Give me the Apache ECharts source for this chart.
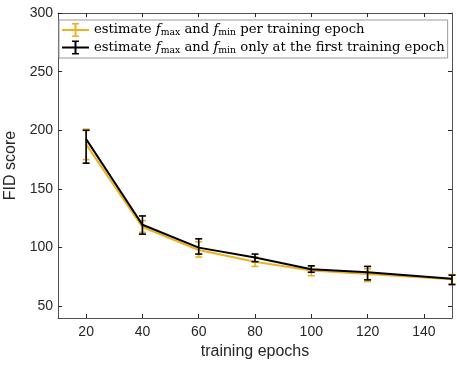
<!DOCTYPE html>
<html>
<head>
    <meta charset="utf-8">
    <title>FID</title>
    <script src="https://cdn.jsdelivr.net/npm/echarts@6/dist/echarts.min.js"></script>
</head>
<body style="margin:0">
    <div id="chart" style="width: 457px;height:366px;"></div>
    <script type="text/javascript">
        // values
        var epochs = [20, 40, 60, 80, 100, 120, 150];
        var perEpochMean = [188, 117.5, 98, 88, 80.5, 77.5, 73];
        var perEpochLow = [175, 113, 92, 84, 76, 71, 69];
        var perEpochHigh = [201, 123, 105, 92, 84, 82, 77];
        var firstMean = [192.5, 119.5, 100, 91.5, 81.5, 79, 73.5];
        var firstLow = [172, 111.5, 94.5, 88, 79, 72.5, 68.5];
        var firstHigh = [200, 127, 107.5, 94.5, 84.5, 84, 76.5];
        var xTicks = [20, 40, 60, 80, 100, 120, 140];
        var yTicks = [50, 100, 150, 200, 250, 300];

        var nameA = 'perEpoch';
        var nameB = 'firstEpoch';
        var orange = '#EDB120';
        var black = '#000000';
        var axisColor = '#262626';
        var barIcon = 'path://M0,6h27v2h-27z M12.5,0h2v14h-2z M10,0h7v1.6h-7z M10,12.4h7v1.6h-7z';

        function pairs(xs, ys) {
            return xs.map(function (x, i) { return [x, ys[i]]; });
        }
        function errData(xs, lo, hi) {
            return xs.map(function (x, i) { return [x, lo[i], hi[i]]; });
        }
        function errSeries(data, color) {
            return {
                type: 'custom',
                data: data,
                silent: true,
                z: color === black ? 4 : 2,
                renderItem: function (params, api) {
                    var x = api.value(0);
                    var lo = api.coord([x, api.value(1)]);
                    var hi = api.coord([x, api.value(2)]);
                    var w = 3.5;
                    var st = { stroke: color, lineWidth: 1.6 };
                    return {
                        type: 'group',
                        children: [
                            { type: 'line', shape: { x1: lo[0], y1: lo[1], x2: hi[0], y2: hi[1] }, style: st },
                            { type: 'line', shape: { x1: lo[0] - w, y1: lo[1], x2: lo[0] + w, y2: lo[1] }, style: st },
                            { type: 'line', shape: { x1: hi[0] - w, y1: hi[1], x2: hi[0] + w, y2: hi[1] }, style: st }
                        ]
                    };
                }
            };
        }

        var serif = 'DejaVu Serif';
        var legendRich = {
            t: { fontFamily: serif, fontSize: 13.2, color: '#000' },
            i: { fontFamily: serif, fontStyle: 'italic', fontSize: 13.2, color: '#000' },
            s: { fontFamily: serif, fontSize: 9.3, color: '#000', verticalAlign: 'bottom', padding: [6, 0, 0, 0] }
        };

        var myChart = echarts.init(document.getElementById('chart'));
        var option = {
            animation: false,
            grid: { left: 58, right: 5, top: 13, bottom: 48, outerBoundsMode: 'none' },
            legend: {
                orient: 'vertical',
                left: 59,
                top: 20,
                padding: [3, 3, 3, 3],
                itemGap: 3,
                itemWidth: 27,
                itemHeight: 14,
                backgroundColor: '#fff',
                borderColor: '#999',
                borderWidth: 1,
                data: [
                    { name: nameA, icon: barIcon, itemStyle: { color: orange } },
                    { name: nameB, icon: barIcon, itemStyle: { color: black } }
                ],
                formatter: function (name) {
                    if (name === nameA) {
                        return '{t|estimate }{i|f}{s|max}{t| and }{i|f}{s|min}{t| per training epoch}';
                    }
                    return '{t|estimate }{i|f}{s|max}{t| and }{i|f}{s|min}{t| only at the first training epoch}';
                },
                textStyle: { rich: legendRich }
            },
            xAxis: [{
                type: 'value',
                min: 10,
                max: 150,
                name: 'training epochs',
                nameLocation: 'middle',
                nameGap: 21,
                nameTextStyle: { fontFamily: 'Liberation Sans', fontSize: 16, color: axisColor },
                axisLine: { lineStyle: { color: axisColor, width: 0.8 } },
                axisTick: { inside: true, length: 4, customValues: xTicks, lineStyle: { color: axisColor } },
                axisLabel: { customValues: xTicks, fontFamily: 'Liberation Sans', fontSize: 14, color: axisColor, margin: 7 },
                splitLine: { show: false }
            }, {
                type: 'value',
                position: 'top',
                min: 10,
                max: 150,
                axisLine: { show: true, lineStyle: { color: axisColor, width: 0.8 } },
                axisTick: { inside: true, length: 4, customValues: xTicks, lineStyle: { color: axisColor } },
                axisLabel: { show: false },
                splitLine: { show: false }
            }],
            yAxis: [{
                type: 'value',
                min: 40,
                max: 300,
                name: 'FID score',
                nameLocation: 'middle',
                nameGap: 38,
                nameTextStyle: { fontFamily: 'Liberation Sans', fontSize: 16, color: axisColor },
                axisLine: { show: true, lineStyle: { color: axisColor, width: 0.8 } },
                axisTick: { show: true, inside: true, length: 4, customValues: yTicks, lineStyle: { color: axisColor } },
                axisLabel: { customValues: yTicks, fontFamily: 'Liberation Sans', fontSize: 14, color: axisColor, margin: 5 },
                splitLine: { show: false }
            }, {
                type: 'value',
                position: 'right',
                min: 40,
                max: 300,
                axisLine: { show: true, lineStyle: { color: axisColor, width: 0.8 } },
                axisTick: { show: true, inside: true, length: 4, customValues: yTicks, lineStyle: { color: axisColor } },
                axisLabel: { show: false },
                splitLine: { show: false }
            }],
            series: [
                {
                    name: nameA,
                    type: 'line',
                    data: pairs(epochs, perEpochMean),
                    symbol: 'none',
                    z: 1,
                    lineStyle: { color: orange, width: 2 },
                    itemStyle: { color: orange }
                },
                errSeries(errData(epochs, perEpochLow, perEpochHigh), orange),
                {
                    name: nameB,
                    type: 'line',
                    data: pairs(epochs, firstMean),
                    symbol: 'none',
                    z: 3,
                    lineStyle: { color: black, width: 2 },
                    itemStyle: { color: black }
                },
                errSeries(errData(epochs, firstLow, firstHigh), black)
            ]
        };
        myChart.setOption(option);
    </script>
</body>
</html>
